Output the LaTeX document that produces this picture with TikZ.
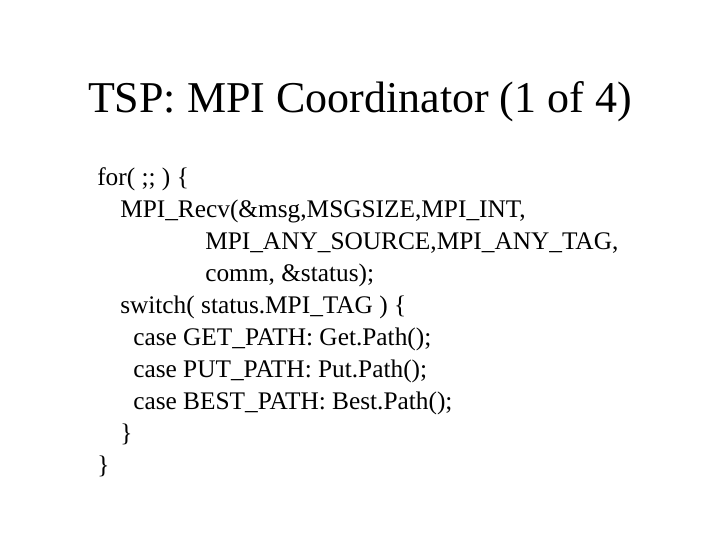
\documentclass[tikz,border=0pt]{standalone}
\usepackage{fontspec}
\setmainfont{Liberation Serif}
\begin{document}
\begin{tikzpicture}[x=0.75pt,y=-0.75pt,
  title/.style={anchor=base,inner sep=0pt,font=\fontsize{33}{38}\selectfont},
  code/.style={anchor=base west,inner sep=0pt,font=\fontsize{19}{23}\selectfont}]
\useasboundingbox (0,0) rectangle (720,540);
\node[title] (t) at (360,112) {TSP: MPI Coordinator (1 of 4)};
\node[code] (l1) at (97,185) {for( ;; ) \{};
\node[code] (l2) at (120,217) {MPI\_Recv(\&msg,MSGSIZE,MPI\_INT,};
\node[code] (l3) at (205,249) {MPI\_ANY\_SOURCE,MPI\_ANY\_TAG,};
\node[code] (l4) at (205,281) {comm, \&status);};
\node[code] (l5) at (120,313) {switch( status.MPI\_TAG ) \{};
\node[code] (l6) at (133,345) {case GET\_PATH: Get.Path();};
\node[code] (l7) at (133,377) {case PUT\_PATH: Put.Path();};
\node[code] (l8) at (133,409) {case BEST\_PATH: Best.Path();};
\node[code] (l9) at (120,441) {\}};
\node[code] (l10) at (97,473) {\}};
\end{tikzpicture}
\end{document}
